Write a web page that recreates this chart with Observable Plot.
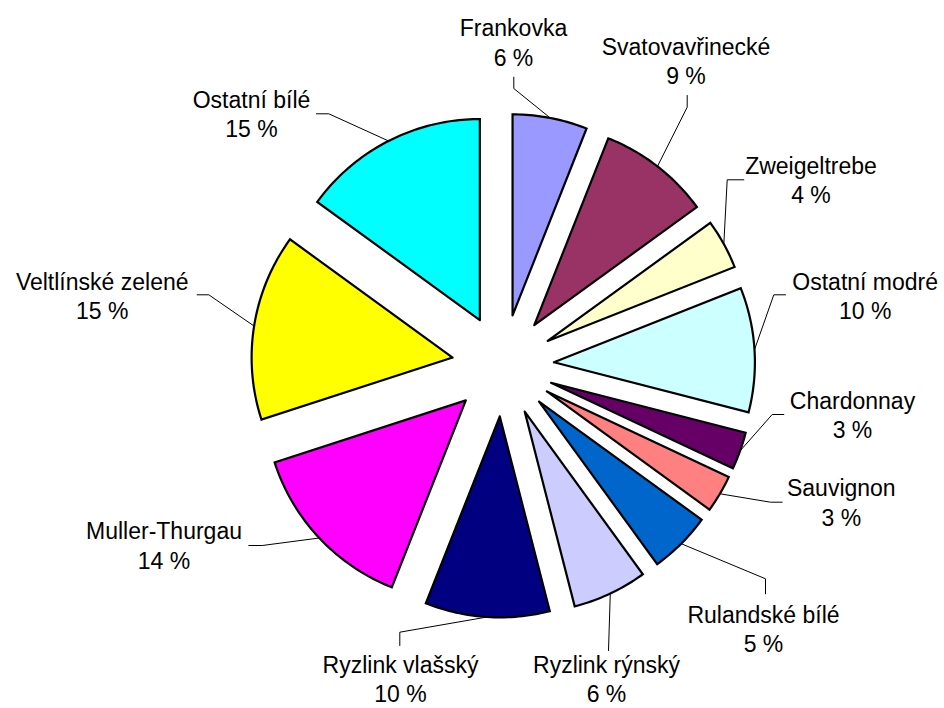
<!DOCTYPE html>
<html><head><meta charset="utf-8">
<script src="https://cdn.jsdelivr.net/npm/d3@7"></script>
<script src="https://cdn.jsdelivr.net/npm/@observablehq/plot@0.6"></script>
<style>html,body{margin:0;padding:0;background:#fff}</style>
</head><body><div id="chart"></div>
<script>
// ---- data ----
const categories = ["Frankovka","Svatovavřinecké","Zweigeltrebe","Ostatní modré","Chardonnay","Sauvignon","Rulandské bílé","Ryzlink rýnský","Ryzlink vlašský","Muller-Thurgau","Veltlínské zelené","Ostatní bílé"];
const shares = [6, 9, 4, 10, 3, 3, 5, 6, 10, 14, 15, 15];
const percentLabels = ["6 %","9 %","4 %","10 %","3 %","3 %","5 %","6 %","10 %","14 %","15 %","15 %"];
const colors = ["#9999FF","#993366","#FFFFCC","#CCFFFF","#660066","#FF8080","#0066CC","#CCCCFF","#000080","#FF00FF","#FFFF00","#00FFFF"];

// ---- layout (label anchors and leader elbows, in chart units) ----
const labelPos = [[513,48.3],[685.5,66.7],[810.5,186],[864.7,301.7],[852,421.2],[840.8,508.5],[763,635],[606,685],[400,685],[163.5,551.3],[101.7,301.7],[251,120]];
const leaderElbows = [
  [[513.3,76.7],[513.3,88]],
  [[686.7,95],[686.7,106.7]],
  [[743.3,179.3],[726.7,179.3]],
  [[785,294.3],[773.3,294.3]],
  [[783.3,414],[771.7,414]],
  [[781.7,501.7],[770,501.7]],
  [[765,593.3],[765,578.3]],
  [[608,650]],
  [[399.3,645],[399.3,631.7]],
  [[248.3,545],[261.7,545]],
  [[196.7,294.3],[208.3,294.3]],
  [[316,113.3],[328.3,113.3]]
];
const CX = 502.5, CY = 365, R = 201, EXPLODE = 51;

// ---- geometry from data ----
const arcs = d3.pie().sort(null).value(d => d)(shares);
const slicePts = [], leaderPts = [], labels = [];
arcs.forEach((a, i) => {
  const mid = (a.startAngle + a.endAngle) / 2;
  const ox = CX + EXPLODE * Math.sin(mid), oy = CY - EXPLODE * Math.cos(mid);
  const name = categories[i], color = colors[i];
  slicePts.push({name, color, x: ox, y: oy});
  const n = Math.max(6, Math.ceil((a.endAngle - a.startAngle) * 180 / Math.PI));
  for (let k = 0; k <= n; k++) {
    const t = a.startAngle + (a.endAngle - a.startAngle) * k / n;
    slicePts.push({name, color, x: ox + R * Math.sin(t), y: oy - R * Math.cos(t)});
  }
  slicePts.push({name, color, x: ox, y: oy});
  leaderElbows[i].forEach(([x, y]) => leaderPts.push({name, x, y}));
  leaderPts.push({name, x: ox + R * Math.sin(mid), y: oy - R * Math.cos(mid)});
  labels.push({name, x: labelPos[i][0], y: labelPos[i][1] - 7.4, text: categories[i] + "\n" + percentLabels[i]});
});

const font = "'Liberation Sans', Arial, sans-serif";
const chart = Plot.plot({
  width: 944, height: 708, margin: 0,
  style: {fontFamily: font, background: "#fff"},
  x: {domain: [0, 944], range: [0, 944], axis: null},
  y: {domain: [0, 708], range: [0, 708], axis: null},
  color: {type: "identity"},
  marks: [
    Plot.line(leaderPts, {x: "x", y: "y", z: "name", stroke: "#000", strokeWidth: 1, curve: "linear"}),
    Plot.line(slicePts, {x: "x", y: "y", z: "name", fill: "color", stroke: "#000", strokeWidth: 2.2, strokeLinejoin: "miter", strokeMiterlimit: 20, curve: "linear"}),
    Plot.text(labels, {x: "x", y: "y", text: "text", fontSize: 23, lineHeight: 1.28, fill: "#000", fontFamily: font, textAnchor: "middle"})
  ]
});
document.getElementById("chart").appendChild(chart);
</script>
</body></html>
